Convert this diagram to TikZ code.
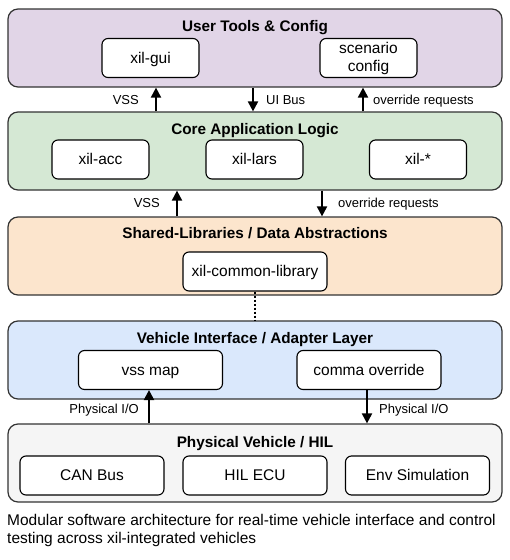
\documentclass[tikz,border=0pt]{standalone}
\usepackage{fontspec}
\setmainfont{Liberation Sans}
\usetikzlibrary{arrows.meta,calc}
\definecolor{cuser}{HTML}{E1D5E7}
\definecolor{ccore}{HTML}{D5E8D4}
\definecolor{cshared}{HTML}{FCE5CD}
\definecolor{cveh}{HTML}{DAE8FC}
\definecolor{cphys}{HTML}{F5F5F5}
\definecolor{cedge}{HTML}{333333}
\tikzset{
  layer/.style={draw=cedge, line width=1.2pt, rounded corners=10pt, minimum width=494pt, minimum height=78pt, inner sep=0pt},
  ltitle/.style={font=\fontsize{15.3}{17}\selectfont\bfseries, inner sep=0pt, text height=13.8pt, text depth=3.2pt},
  comp/.style={draw=black, fill=white, line width=1.1pt, rounded corners=6pt, minimum height=39pt, inner sep=0pt, align=center, font=\fontsize{15.5}{18}\selectfont},
  one/.style={text height=14pt, text depth=3.3pt},
  arr/.style={line width=2pt, -{Triangle[length=10pt,width=10pt]}},
  lbl/.style={font=\fontsize{13}{15}\selectfont, inner sep=0pt, text height=11.8pt, text depth=2.8pt},
}
\begin{document}
\begin{tikzpicture}[x=1pt,y=1pt]
\useasboundingbox (0,0) rectangle (510,-560);
% layers
\node[layer, fill=cuser] (user) at (255,-48) {};
\node[layer, fill=ccore] (core) at (255,-151) {};
\node[layer, fill=cshared] (shared) at (255,-256) {};
\node[layer, fill=cveh] (veh) at (255,-360) {};
\node[layer, fill=cphys] (phys) at (255,-463) {};
% titles
\node[ltitle] (tuser) at (255,-26) {User Tools \& Config};
\node[ltitle] (tcore) at (255,-129) {Core Application Logic};
\node[ltitle] (tshared) at (255,-233) {Shared-Libraries / Data Abstractions};
\node[ltitle] (tveh) at (255,-338) {Vehicle Interface / Adapter Layer};
\node[ltitle] (tphys) at (255,-442) {Physical Vehicle / HIL};
% components
\node[comp, one, minimum width=97pt] (gui) at (150.5,-58) {xil-gui};
\node[comp, minimum width=97pt] (scen) at (368.5,-58) {scenario\\config};
\node[comp, one, minimum width=97pt] (acc) at (100.5,-159.5) {xil-acc};
\node[comp, one, minimum width=97pt] (lars) at (254.5,-159.5) {xil-lars};
\node[comp, one, minimum width=97pt] (star) at (418,-159.5) {xil-*};
\node[comp, one, minimum width=144pt] (common) at (255,-271.5) {xil-common-library};
\node[comp, one, minimum width=144pt] (vss) at (150.5,-370) {vss map};
\node[comp, one, minimum width=144pt] (comma) at (369,-370) {comma override};
\node[comp, one, minimum width=144pt] (can) at (92,-475.5) {CAN Bus};
\node[comp, one, minimum width=144pt] (hil) at (255,-475.5) {HIL ECU};
\node[comp, one, minimum width=144pt] (env) at (417.5,-475.5) {Env Simulation};
% x positions for connectors
\coordinate (xa) at (156,0);
\coordinate (xb) at (253,0);
\coordinate (xc) at (363,0);
\coordinate (xd) at (177,0);
\coordinate (xe) at (322,0);
\coordinate (xf) at (149,0);
\coordinate (xg) at (367,0);
% connectors user <-> core
\draw[arr] (core.north -| xa) -- (user.south -| xa);
\draw[arr] (user.south -| xb) -- (core.north -| xb);
\draw[arr] (core.north -| xc) -- (user.south -| xc);
\node[lbl, anchor=east] (l1) at (139,-100) {VSS};
\node[lbl, anchor=west] (l2) at (266,-100) {UI Bus};
\node[lbl, anchor=west] (l3) at (373,-100) {override requests};
% core <-> shared
\draw[arr] (shared.north -| xd) -- (core.south -| xd);
\draw[arr] (core.south -| xe) -- (shared.north -| xe);
\node[lbl, anchor=east] (l4) at (160,-203) {VSS};
\node[lbl, anchor=west] (l5) at (338,-203) {override requests};
% shared ... vehicle
\draw[line width=2pt, dotted] (common.south) -- (veh.north -| common.south);
% vehicle <-> physical
\draw[arr] (phys.north -| xf) -- (vss.south -| xf);
\draw[arr] (comma.south -| xg) -- (phys.north -| xg);
\node[lbl, anchor=east] (l6) at (139,-409) {Physical I/O};
\node[lbl, anchor=west] (l7) at (379,-409) {Physical I/O};
% caption
\node[anchor=north west, align=left, inner sep=0pt, font=\fontsize{15.5}{18}\selectfont] (cap) at (7,-514) {Modular software architecture for real-time vehicle interface and control\\testing across xil-integrated vehicles};
\end{tikzpicture}
\end{document}
